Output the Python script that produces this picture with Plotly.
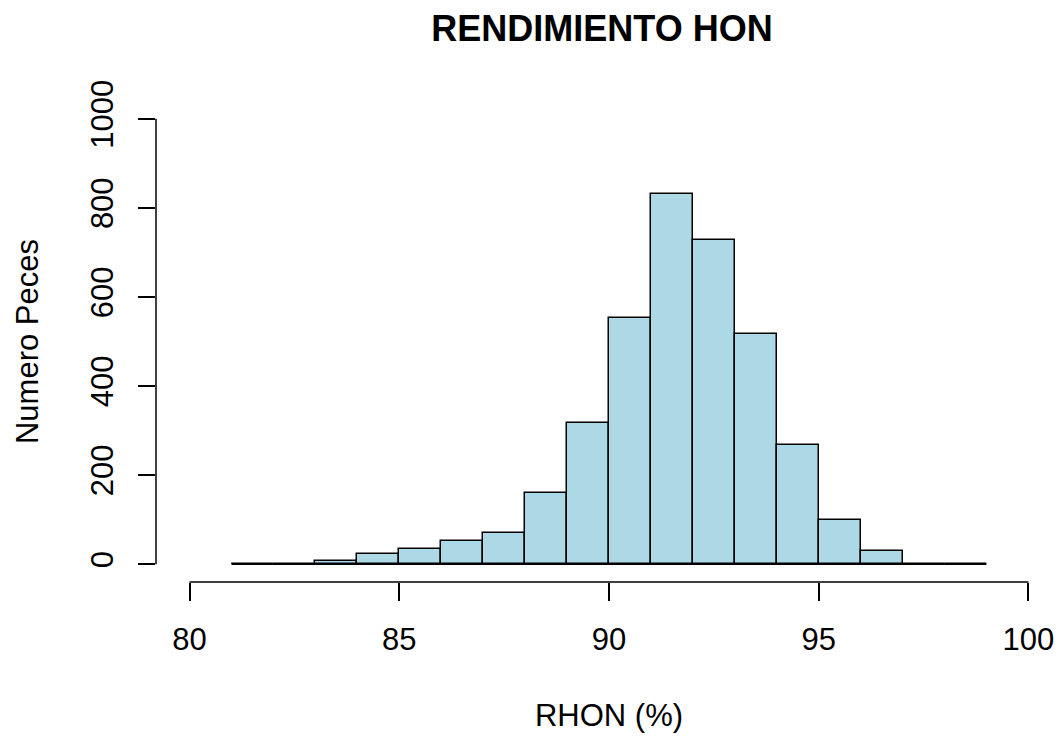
import plotly.graph_objects as go

# ---- data ----
bin_edges = [81, 82, 83, 84, 85, 86, 87, 88, 89, 90, 91, 92, 93, 94, 95, 96, 97, 98, 99]
counts = [0, 0, 8, 22, 35, 52, 70, 160, 318, 553, 832, 727, 517, 268, 100, 30, 0, 0]
x_ticks = [80, 85, 90, 95, 100]
y_ticks = [0, 200, 400, 600, 800, 1000]
title_text = "RENDIMIENTO HON"
x_title = "RHON (%)"
y_title = "Numero Peces"

# ---- styling ----
W, H = 1062, 738
FONT = "Liberation Sans, Arial, sans-serif"
FILL = "#ADD8E6"
# R-style 4% padding around the axis ranges
xr = [x_ticks[0] - 0.04 * (x_ticks[-1] - x_ticks[0]), x_ticks[-1] + 0.04 * (x_ticks[-1] - x_ticks[0])]
yr = [y_ticks[0] - 0.04 * (y_ticks[-1] - y_ticks[0]), y_ticks[-1] + 0.04 * (y_ticks[-1] - y_ticks[0])]

centers = [(a + b) / 2 for a, b in zip(bin_edges[:-1], bin_edges[1:])]
widths = [b - a for a, b in zip(bin_edges[:-1], bin_edges[1:])]

fig = go.Figure()
# baseline spanning the full histogram range (shows empty bins as a flat line)
fig.add_trace(go.Scatter(
    x=[bin_edges[0], bin_edges[-1]], y=[0, 0], mode="lines",
    line=dict(color="black", width=1.5), hoverinfo="skip", showlegend=False,
))
fig.add_trace(go.Bar(
    x=centers, y=counts, width=widths,
    marker=dict(color=FILL, line=dict(color="black", width=1.5)),
    showlegend=False,
))

def px(v, r):
    return (v - r[0]) / (r[1] - r[0])

shapes = [
    # x axis line from first to last tick
    dict(type="line", xref="paper", yref="paper",
         x0=px(x_ticks[0], xr), x1=px(x_ticks[-1], xr), y0=0, y1=0,
         line=dict(color="black", width=1.5)),
    # y axis line from first to last tick
    dict(type="line", xref="paper", yref="paper",
         x0=0, x1=0, y0=px(y_ticks[0], yr), y1=px(y_ticks[-1], yr),
         line=dict(color="black", width=1.5)),
]

fig.update_layout(
    width=W, height=H,
    margin=dict(l=156, r=0, t=101, b=156),
    paper_bgcolor="white", plot_bgcolor="white",
    bargap=0,
    font=dict(family=FONT, size=31, color="black"),
    title=dict(text="<b>" + title_text + "</b>", font=dict(size=36, family=FONT, color="black"),
               x=602 / W, xref="container", xanchor="center",
               y=1 - 28 / H, yref="container", yanchor="middle"),
    shapes=shapes,
    xaxis=dict(range=xr, tickvals=x_ticks, ticktext=[str(v) for v in x_ticks],
               showgrid=False, zeroline=False, showline=False,
               ticks="outside", ticklen=18, tickwidth=1.5, tickcolor="black",
               ticklabelstandoff=12,
               title=dict(text=x_title, standoff=48, font=dict(size=31))),
    yaxis=dict(range=yr, tickvals=y_ticks, ticktext=[str(v) for v in y_ticks],
               tickangle=-90,
               showgrid=False, zeroline=False, showline=False,
               ticks="outside", ticklen=17, tickwidth=1.5, tickcolor="black",
               ticklabelstandoff=13,
               title=dict(text=y_title, standoff=36, font=dict(size=31))),
)

fig.write_html("out.html")
